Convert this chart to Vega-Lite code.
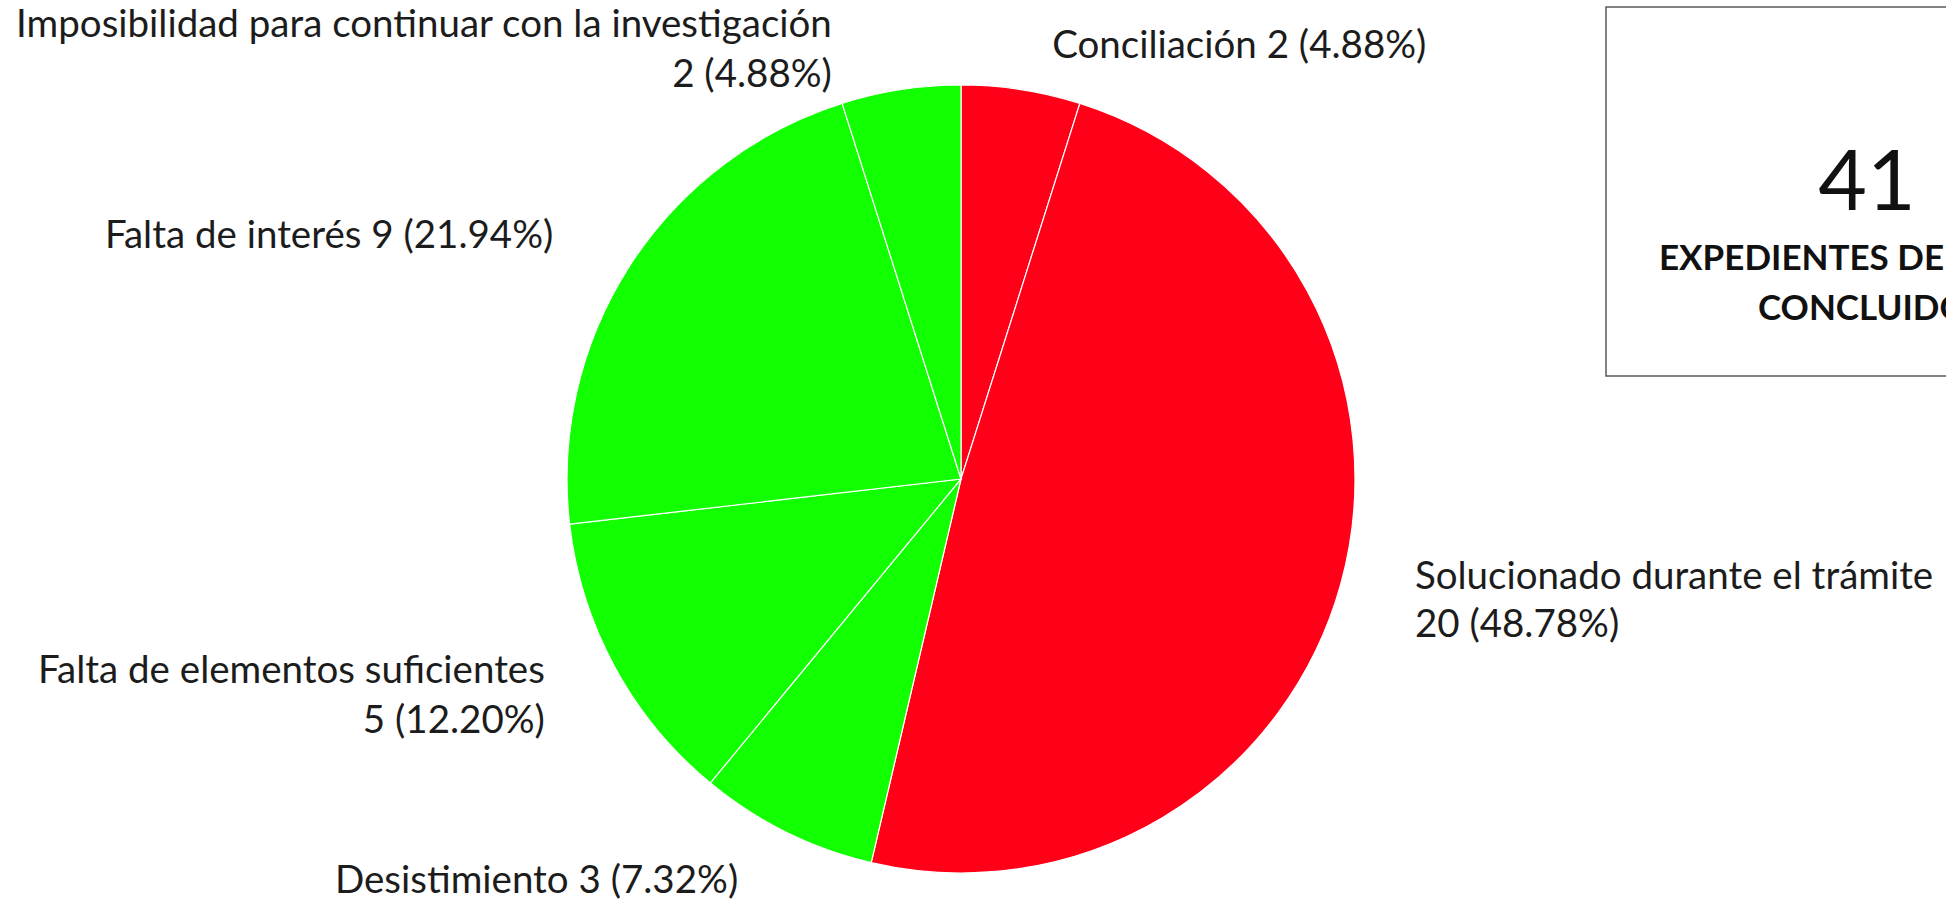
{
  "$schema": "https://vega.github.io/schema/vega-lite/v6.json",
  "autosize": {"type": "none"},
  "padding": {"left": 316, "top": 7, "right": 1630, "bottom": 895},
  "background": "white",
  "bounds": "flush",
  "spacing": 0,
  "config": {"view": {"stroke": null}, "font": "Lato", "text": {"font": "Lato", "color": "#1c1c1c"}},
  "datasets": {
    "causas": [
      {"categoria": "Conciliación", "n": 2, "orden": 1, "etiqueta": "Conciliación 2 (4.88%)"},
      {"categoria": "Solucionado durante el trámite", "n": 20, "orden": 2, "etiqueta": "Solucionado durante el trámite\n20 (48.78%)"},
      {"categoria": "Desistimiento", "n": 3, "orden": 3, "etiqueta": "Desistimiento 3 (7.32%)"},
      {"categoria": "Falta de elementos suficientes", "n": 5, "orden": 4, "etiqueta": "Falta de elementos suficientes\n5 (12.20%)"},
      {"categoria": "Falta de interés", "n": 9, "orden": 5, "etiqueta": "Falta de interés 9 (21.94%)"},
      {"categoria": "Imposibilidad para continuar con la investigación", "n": 2, "orden": 6, "etiqueta": "Imposibilidad para continuar con la investigación\n2 (4.88%)"}
    ],
    "resumen": [{"total": 41}]
  },
  "hconcat": [
    {
      "width": 1290,
      "height": 944,
      "data": {"name": "causas"},
      "encoding": {
        "theta": {"field": "n", "type": "quantitative", "stack": true},
        "order": {"field": "orden", "type": "quantitative"}
      },
      "layer": [
        {
          "mark": {"type": "arc", "outerRadius": 394, "stroke": "white", "strokeWidth": 1.2},
          "encoding": {
            "color": {
              "field": "categoria", "type": "nominal", "legend": null,
              "scale": {
                "domain": ["Conciliación", "Solucionado durante el trámite", "Desistimiento", "Falta de elementos suficientes", "Falta de interés", "Imposibilidad para continuar con la investigación"],
                "range": ["#ff0018", "#ff0018", "#11ff00", "#11ff00", "#11ff00", "#11ff00"]
              }
            }
          }
        },
        {
          "mark": {"type": "text", "radius": 394, "align": "left", "baseline": "middle", "dx": 31, "dy": -44, "fontSize": 38.5, "lineBreak": "\n", "lineHeight": 49},
          "encoding": {"detail": {"field": "categoria"}, "text": {"condition": {"test": "datum.orden === 1", "field": "etiqueta"}, "value": ""}}
        },
        {
          "mark": {"type": "text", "radius": 394, "align": "left", "baseline": "middle", "dx": 74, "dy": -6, "fontSize": 38.5, "lineBreak": "\n", "lineHeight": 48},
          "encoding": {"detail": {"field": "categoria"}, "text": {"condition": {"test": "datum.orden === 2", "field": "etiqueta"}, "value": ""}}
        },
        {
          "mark": {"type": "text", "radius": 394, "align": "right", "baseline": "middle", "dx": -48, "dy": 49, "fontSize": 38.5, "lineBreak": "\n", "lineHeight": 49},
          "encoding": {"detail": {"field": "categoria"}, "text": {"condition": {"test": "datum.orden === 3", "field": "etiqueta"}, "value": ""}}
        },
        {
          "mark": {"type": "text", "radius": 394, "align": "right", "baseline": "middle", "dx": -70, "dy": 4, "fontSize": 38.5, "lineBreak": "\n", "lineHeight": 50},
          "encoding": {"detail": {"field": "categoria"}, "text": {"condition": {"test": "datum.orden === 4", "field": "etiqueta"}, "value": ""}}
        },
        {
          "mark": {"type": "text", "radius": 394, "align": "right", "baseline": "middle", "dx": -77, "dy": -29, "fontSize": 38.5, "lineBreak": "\n", "lineHeight": 49},
          "encoding": {"detail": {"field": "categoria"}, "text": {"condition": {"test": "datum.orden === 5", "field": "etiqueta"}, "value": ""}}
        },
        {
          "mark": {"type": "text", "radius": 394, "align": "right", "baseline": "middle", "dx": -69, "dy": -65, "fontSize": 38.5, "lineBreak": "\n", "lineHeight": 50},
          "encoding": {"detail": {"field": "categoria"}, "text": {"condition": {"test": "datum.orden === 6", "field": "etiqueta"}, "value": ""}}
        }
      ]
    },
    {
      "width": 522,
      "height": 369,
      "view": {"stroke": "#5a5a5a", "strokeWidth": 1.5, "fill": "white"},
      "data": {"name": "resumen"},
      "layer": [
        {
          "mark": {"type": "text", "fontSize": 84, "align": "center", "baseline": "alphabetic", "dx": 0, "dy": 18.5, "color": "#111111"},
          "encoding": {"text": {"field": "total", "type": "quantitative"}}
        },
        {
          "mark": {"type": "text", "text": "EXPEDIENTES DE QUEJA", "fontSize": 35, "fontWeight": "bold", "align": "left", "baseline": "alphabetic", "dx": -208, "dy": 78.5, "color": "#111111"},
          "encoding": {}
        },
        {
          "mark": {"type": "text", "text": "CONCLUIDOS", "fontSize": 35, "fontWeight": "bold", "align": "left", "baseline": "alphabetic", "dx": -109, "dy": 128.5, "color": "#111111"},
          "encoding": {}
        }
      ]
    }
  ]
}
